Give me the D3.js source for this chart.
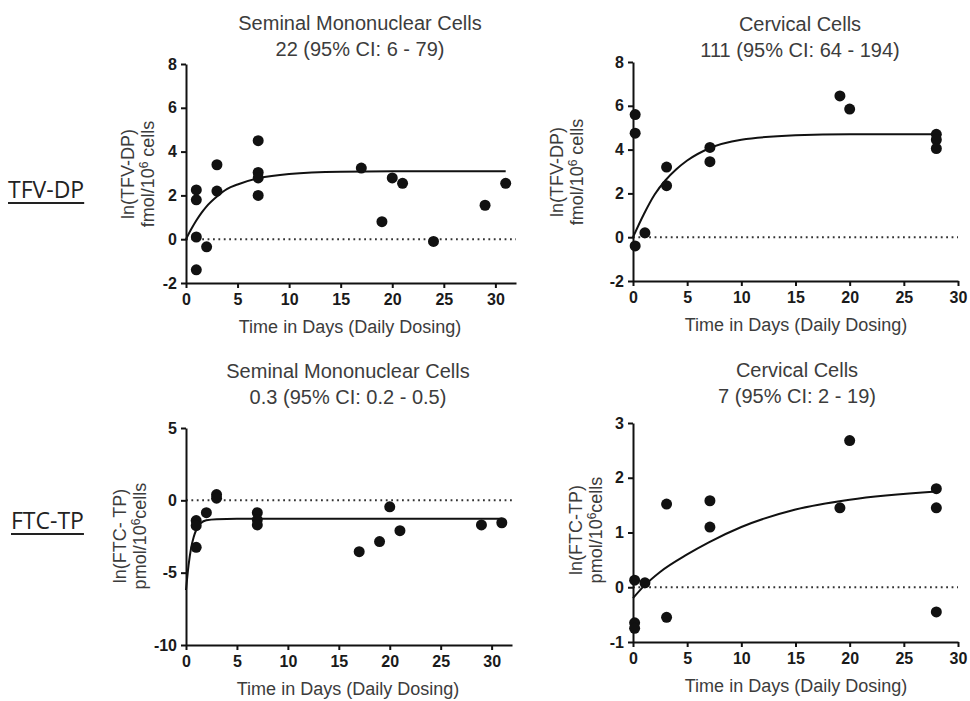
<!DOCTYPE html>
<html>
<head>
<meta charset="utf-8">
<script src="https://cdn.jsdelivr.net/npm/d3@7"></script>
<style>
  body { margin: 0; background: #fff; }
  svg { display: block; font-family: "Liberation Sans", Arial, sans-serif; }
  .tick text { font-weight: bold; font-size: 16px; fill: #1a1a1a; font-family: "Liberation Sans", Arial, sans-serif; }
  .domain, .tick line { stroke: #111; stroke-width: 2px; }
  .title, .axis-title { fill: #3c3c3c; }
</style>
</head>
<body>
<div id="chart"></div>
<script>
// ---- data ----
// TFV-DP, seminal mononuclear cells
const semTfvDays   = [1, 1, 1, 1, 2, 3, 3, 7, 7, 7, 7, 17, 19, 20, 21, 24, 29, 31];
const semTfvValues = [2.25, 1.8, 0.1, -1.4, -0.35, 3.4, 2.2, 4.5, 3.05, 2.8, 2.0, 3.25, 0.8, 2.8, 2.55, -0.1, 1.55, 2.55];
const semTfvFitDays   = [0, 0.5, 1, 1.5, 2, 3, 4, 5, 7, 10, 15, 20, 31];
const semTfvFitValues = [0, 0.45, 0.85, 1.2, 1.5, 1.95, 2.3, 2.5, 2.78, 2.98, 3.08, 3.1, 3.1];

// TFV-DP, cervical cells
const cerTfvDays   = [0.2, 0.2, 0.2, 1.1, 3.1, 3.1, 7.1, 7.1, 19.1, 20, 28, 28, 28];
const cerTfvValues = [5.6, 4.75, -0.4, 0.2, 3.2, 2.35, 4.1, 3.45, 6.45, 5.85, 4.7, 4.45, 4.05];
const cerTfvFitDays   = [0, 1, 2, 3, 4, 5, 7, 10, 15, 20, 28];
const cerTfvFitValues = [0, 1.05, 1.95, 2.6, 3.1, 3.5, 4.05, 4.45, 4.65, 4.7, 4.7];

// FTC-TP, seminal mononuclear cells
const semFtcDays   = [1, 1, 1, 2, 3, 3, 7, 7, 7, 17, 19, 20, 21, 29, 31];
const semFtcValues = [-1.4, -1.75, -3.25, -0.85, 0.4, 0.15, -0.85, -1.35, -1.7, -3.55, -2.85, -0.45, -2.1, -1.7, -1.55];
const semFtcFitDays   = [0, 0.25, 0.5, 0.75, 1, 1.5, 2, 3, 5, 31];
const semFtcFitValues = [-6.2, -4.5, -3.3, -2.55, -2.05, -1.55, -1.38, -1.3, -1.28, -1.28];

// FTC-TP, cervical cells
const cerFtcDays   = [0.15, 0.15, 0.15, 1.1, 3.1, 3.1, 7.1, 7.1, 19.1, 20, 28, 28, 28];
const cerFtcValues = [0.13, -0.65, -0.75, 0.08, 1.52, -0.55, 1.58, 1.1, 1.45, 2.68, 1.8, 1.45, -0.45];
const cerFtcFitDays   = [0, 1, 2.5, 5, 7, 10, 15, 20, 28];
const cerFtcFitValues = [-0.2, 0.02, 0.28, 0.6, 0.82, 1.1, 1.42, 1.6, 1.75];

const xTickValues = [0, 5, 10, 15, 20, 25, 30];
const xTitle = "Time in Days (Daily Dosing)";

const width = 970, height = 701;

const svg = d3.select("#chart").append("svg")
    .attr("width", width)
    .attr("height", height);

// plain hyphen minus, no decimals
const fmt = d => String(d);

// one panel of the figure
function drawPanel(p) {
    const x = d3.scaleLinear().domain(p.xDomain).range([p.left, p.right]);
    const y = d3.scaleLinear().domain(p.yDomain).range([p.bottom, p.top]);

    const g = svg.append("g");

    // titles
    g.append("text").attr("class", "title")
        .attr("x", p.titleX).attr("y", p.titleY)
        .attr("text-anchor", "middle").style("font-size", "20px")
        .text(p.title1);
    g.append("text").attr("class", "title")
        .attr("x", p.titleX).attr("y", p.titleY + 26)
        .attr("text-anchor", "middle").style("font-size", "20px")
        .text(p.title2);

    // dotted zero line
    g.append("line")
        .attr("x1", x(0)).attr("x2", p.right)
        .attr("y1", y(0)).attr("y2", y(0))
        .attr("stroke", "#333")
        .attr("stroke-width", 2)
        .attr("stroke-dasharray", "1.8,3.6");

    // axes
    g.append("g")
        .attr("transform", "translate(0," + p.bottom + ")")
        .call(d3.axisBottom(x).tickValues(xTickValues).tickFormat(fmt)
            .tickSize(5).tickPadding(6).tickSizeOuter(0));
    g.append("g")
        .attr("transform", "translate(" + p.left + ",0)")
        .call(d3.axisLeft(y).tickValues(p.yTicks).tickFormat(fmt)
            .tickSize(5).tickPadding(4).tickSizeOuter(0));

    // x title
    g.append("text").attr("class", "axis-title")
        .attr("x", (p.left + p.xTitleShift)).attr("y", p.bottom + 50)
        .attr("text-anchor", "middle").style("font-size", "18px")
        .text(xTitle);

    // y title, two lines
    const yt = g.append("text").attr("class", "axis-title")
        .attr("transform", "translate(" + p.yLabelX + "," + p.yLabelY + ") rotate(-90)")
        .attr("text-anchor", "middle").style("font-size", "18px");
    yt.append("tspan").attr("x", 0).attr("dy", "0.35em").text(p.yLine1);
    const l2 = yt.append("tspan").attr("x", 0).attr("dy", "20px");
    l2.append("tspan").text(p.yLine2a);
    l2.append("tspan").attr("dy", "-6px").style("font-size", "12px").text("6");
    l2.append("tspan").attr("dy", "6px").text(p.yLine2b);

    // fit curve
    const fit = p.fitDays.map((d, i) => [d, p.fitValues[i]]);
    g.append("path")
        .datum(fit)
        .attr("fill", "none")
        .attr("stroke", "#111")
        .attr("stroke-width", 2)
        .attr("d", d3.line().x(d => x(d[0])).y(d => y(d[1])).curve(d3.curveMonotoneX));

    // points
    const pts = p.days.map((d, i) => [d, p.values[i]]);
    g.selectAll("circle.pt")
        .data(pts).enter()
        .append("circle")
        .attr("class", "pt")
        .attr("cx", d => x(d[0]))
        .attr("cy", d => y(d[1]))
        .attr("r", 5.5)
        .attr("fill", "#111");
}

drawPanel({
    xDomain: [0, 32], yDomain: [-2, 8], yTicks: [-2, 0, 2, 4, 6, 8],
    left: 186, right: 516, top: 64, bottom: 283,
    title1: "Seminal Mononuclear Cells", title2: "22 (95% CI: 6 - 79)",
    titleX: 360, titleY: 30, xTitleShift: 164,
    yLine1: "ln(TFV-DP)", yLine2a: "fmol/10", yLine2b: " cells",
    yLabelX: 128, yLabelY: 174,
    days: semTfvDays, values: semTfvValues, fitDays: semTfvFitDays, fitValues: semTfvFitValues
});

drawPanel({
    xDomain: [0, 30], yDomain: [-2, 8], yTicks: [-2, 0, 2, 4, 6, 8],
    left: 633, right: 958, top: 62, bottom: 281,
    title1: "Cervical Cells", title2: "111 (95% CI: 64 - 194)",
    titleX: 800, titleY: 31, xTitleShift: 163,
    yLine1: "ln(TFV-DP)", yLine2a: "fmol/10", yLine2b: " cells",
    yLabelX: 557, yLabelY: 172,
    days: cerTfvDays, values: cerTfvValues, fitDays: cerTfvFitDays, fitValues: cerTfvFitValues
});

drawPanel({
    xDomain: [0, 32], yDomain: [-10, 5], yTicks: [-10, -5, 0, 5],
    left: 186, right: 512, top: 428, bottom: 645,
    title1: "Seminal Mononuclear Cells", title2: "0.3 (95% CI: 0.2 - 0.5)",
    titleX: 348, titleY: 378, xTitleShift: 162,
    yLine1: "ln(FTC- TP)", yLine2a: "pmol/10", yLine2b: "cells",
    yLabelX: 120, yLabelY: 536,
    days: semFtcDays, values: semFtcValues, fitDays: semFtcFitDays, fitValues: semFtcFitValues
});

drawPanel({
    xDomain: [0, 30], yDomain: [-1, 3], yTicks: [-1, 0, 1, 2, 3],
    left: 633, right: 958, top: 423, bottom: 642,
    title1: "Cervical Cells", title2: "7 (95% CI: 2 - 19)",
    titleX: 797, titleY: 377, xTitleShift: 163,
    yLine1: "ln(FTC-TP)", yLine2a: "pmol/10", yLine2b: "cells",
    yLabelX: 576, yLabelY: 530,
    days: cerFtcDays, values: cerFtcValues, fitDays: cerFtcFitDays, fitValues: cerFtcFitValues
});

// row labels, underlined
function rowLabel(txt, xPos, yPos) {
    const t = svg.append("text")
        .attr("x", xPos).attr("y", yPos)
        .style("font-family", "'Open Sans', 'DejaVu Sans', sans-serif")
        .style("font-size", "23px")
        .attr("fill", "#222")
        .text(txt);
    const w = t.node().getComputedTextLength();
    svg.append("line")
        .attr("x1", xPos).attr("x2", xPos + w)
        .attr("y1", yPos + 5).attr("y2", yPos + 5)
        .attr("stroke", "#222").attr("stroke-width", 2);
}
rowLabel("TFV-DP", 8, 198);
rowLabel("FTC-TP", 11, 529);
</script>
</body>
</html>
